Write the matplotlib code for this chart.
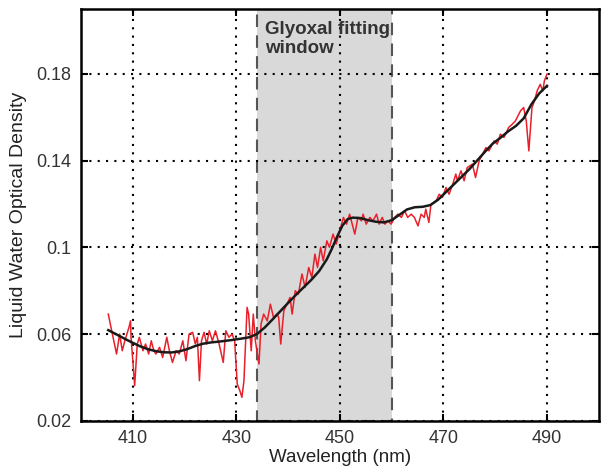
import matplotlib
matplotlib.use("Agg")
from matplotlib import pyplot as plt

# Measured spectrum (red, noisy)
wl_meas = [
    405.3, 406.5, 406.9, 407.5, 408.0, 408.5, 409.3, 409.6, 409.7, 410.4,
    410.9, 411.3, 412.0, 412.5, 413.1, 413.6, 414.1, 414.5, 415.2, 415.8,
    416.6, 417.1, 417.7, 418.4, 419.0, 419.7, 420.3, 420.9, 421.6, 422.1,
    422.5, 422.9, 423.3, 423.8, 424.3, 424.8, 425.4, 426.0, 426.7, 427.5,
    428.0, 428.6, 429.2, 429.7, 430.2, 430.7, 431.1, 431.5, 432.1, 432.4,
    432.9, 433.3, 433.7, 434.4, 434.8, 435.3, 436.0, 436.6, 437.2, 437.9,
    438.2, 438.6, 439.2, 439.8, 440.4, 440.8, 441.4, 442.0, 442.7, 443.3,
    444.0, 444.6, 445.2, 445.7, 446.3, 446.8, 447.5, 448.0, 448.7, 449.3,
    450.7, 451.3, 451.9, 452.9, 453.5, 454.2, 454.5, 455.1, 455.8, 456.4,
    457.1, 457.6, 458.2, 458.7, 459.3, 459.9, 460.6, 461.2, 461.9, 462.5,
    463.1, 463.8, 464.4, 465.1, 465.7, 466.3, 466.6, 467.2, 467.6, 468.6,
    469.2, 469.8, 470.5, 471.1, 471.8, 472.4, 472.7, 473.4, 474.0, 474.6,
    475.6, 476.2, 476.9, 478.2, 478.8, 479.8, 480.4, 481.0, 481.7, 482.6,
    483.3, 483.9, 484.9, 485.5, 486.0, 486.5, 487.1, 487.6, 488.1, 488.7,
    489.2, 489.5, 490.0,
]
od_meas = [
    0.0692, 0.0554, 0.0508, 0.0600, 0.0523, 0.0569, 0.0631, 0.0661, 0.0585, 0.0362,
    0.0554, 0.0585, 0.0523, 0.0554, 0.0508, 0.0569, 0.0523, 0.0508, 0.0539, 0.0492,
    0.0585, 0.0523, 0.0469, 0.0523, 0.0508, 0.0569, 0.0477, 0.0600, 0.0608, 0.0554,
    0.0585, 0.0385, 0.0569, 0.0608, 0.0554, 0.0615, 0.0569, 0.0615, 0.0554, 0.0469,
    0.0615, 0.0585, 0.0600, 0.0569, 0.0370, 0.0339, 0.0308, 0.0385, 0.0723, 0.0692,
    0.0523, 0.0692, 0.0569, 0.0462, 0.0646, 0.0692, 0.0661, 0.0738, 0.0677, 0.0692,
    0.0677, 0.0554, 0.0708, 0.0738, 0.0769, 0.0692, 0.0800, 0.0784, 0.0877, 0.0815,
    0.0907, 0.0861, 0.0969, 0.0907, 0.1000, 0.0938, 0.1030, 0.1000, 0.1061, 0.1015,
    0.1138, 0.1107, 0.1153, 0.1061, 0.1138, 0.1122, 0.1153, 0.1107, 0.1138, 0.1122,
    0.1153, 0.1107, 0.1138, 0.1107, 0.1122, 0.1107, 0.1138, 0.1153, 0.1138, 0.1169,
    0.1138, 0.1153, 0.1138, 0.1099, 0.1153, 0.1138, 0.1176, 0.1115, 0.1199, 0.1215,
    0.1245, 0.1230, 0.1276, 0.1245, 0.1291, 0.1338, 0.1307, 0.1353, 0.1307, 0.1368,
    0.1384, 0.1322, 0.1399, 0.1460, 0.1445, 0.1491, 0.1476, 0.1522, 0.1507, 0.1553,
    0.1568, 0.1583, 0.1630, 0.1645, 0.1583, 0.1445, 0.1645, 0.1676, 0.1722, 0.1752,
    0.1722, 0.1768, 0.1799,
]

# Smoothed spectrum (black)
wl_smooth = [
    405.3, 407.0, 408.5, 410.0, 411.5, 413.0, 414.5, 416.0, 417.5, 419.0,
    420.5, 422.0, 423.5, 425.0, 427.0, 429.0, 431.0, 432.5, 434.0, 435.5,
    437.0, 438.5, 440.0, 441.5, 443.0, 444.5, 446.0, 447.5, 448.5, 449.5,
    450.5, 451.5, 452.5, 454.0, 455.5, 457.0, 458.5, 460.0, 461.5, 463.0,
    464.5, 466.0, 467.5, 469.0, 470.5, 472.0, 473.5, 475.0, 476.5, 478.0,
    479.5, 481.0, 482.5, 484.0, 485.5, 487.0, 488.5, 490.0,
]
od_smooth = [
    0.0618, 0.0597, 0.0578, 0.0560, 0.0543, 0.0530, 0.0521, 0.0516, 0.0515, 0.0520,
    0.0530, 0.0544, 0.0555, 0.0561, 0.0566, 0.0572, 0.0579, 0.0585, 0.0600, 0.0630,
    0.0667, 0.0705, 0.0743, 0.0780, 0.0815, 0.0850, 0.0890, 0.0945, 0.0995, 0.1050,
    0.1100, 0.1130, 0.1137, 0.1135, 0.1125, 0.1118, 0.1115, 0.1125, 0.1150, 0.1175,
    0.1185, 0.1187, 0.1195, 0.1220, 0.1255, 0.1290, 0.1325, 0.1360, 0.1400, 0.1440,
    0.1478, 0.1505, 0.1535, 0.1560, 0.1595, 0.1660, 0.1710, 0.1745,
]

window_start, window_end = 434, 460
x_ticks = [410, 430, 450, 470, 490]
y_ticks = [0.02, 0.06, 0.1, 0.14, 0.18]
y_tick_labels = ["0.02", "0.06", "0.1", "0.14", "0.18"]

plt.rcParams["font.family"] = ["Liberation Sans", "DejaVu Sans"]

fig = plt.figure(figsize=(6.03, 4.67), dpi=100)
ax = fig.add_axes([0.134, 0.099, 0.859, 0.882])

# Fitting window
ax.axvspan(window_start, window_end, facecolor="#d9d9d9", edgecolor="#555555",
           linestyle=(0, (6, 4)), linewidth=1.5, zorder=1)

ax.plot(wl_meas, od_meas, color="#e8202a", linewidth=1.1, zorder=2)
ax.plot(wl_smooth, od_smooth, color="#1a1a1a", linewidth=1.8, zorder=3)

ax.text(435.6, 0.2045, "Glyoxal fitting\nwindow", fontsize=13.5, fontweight="bold",
        color="#333333", va="top", ha="left", linespacing=1.2, zorder=4)

ax.set_xlim(400, 500)
ax.set_ylim(0.02, 0.21)
ax.set_xticks(x_ticks)
ax.set_yticks(y_ticks)
ax.set_yticklabels(y_tick_labels)

ax.set_axisbelow("line")
ax.grid(True, color="black", linestyle=(0, (1, 3)), linewidth=1.5)

ax.tick_params(direction="in", length=5, width=1.5, top=True, right=True,
               labelsize=13, labelcolor="#333333", pad=7)
for side in ax.spines.values():
    side.set_linewidth(1.8)

ax.set_xlabel("Wavelength (nm)", fontsize=13.5, color="#222222", labelpad=1)
ax.set_ylabel("Liquid Water Optical Density", fontsize=14, color="#222222", labelpad=6)

fig.savefig("out.png", dpi=100)
